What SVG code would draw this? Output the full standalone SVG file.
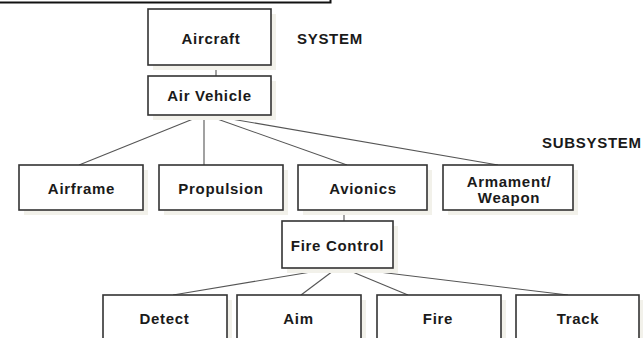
<svg xmlns="http://www.w3.org/2000/svg" width="643" height="338" viewBox="0 0 643 338">
  <style>
    .box { fill: #ffffff; stroke: #333333; stroke-width: 1.6; }
    .shadow { fill: #f2f1ea; }
    .lbl { font-family: "Liberation Sans", Arial, sans-serif; font-weight: bold; font-size: 15px; fill: #1a1a1a; text-anchor: middle; letter-spacing: 0.7px; }
    .tag { font-family: "Liberation Sans", Arial, sans-serif; font-weight: bold; font-size: 15px; fill: #1a1a1a; letter-spacing: 0.7px; }
    .wire { stroke: #555555; stroke-width: 1.1; fill: none; }
  </style>

  <rect width="643" height="338" fill="#ffffff"/>

  <!-- frame edge along the top -->
  <rect x="-4" y="-20" width="334.5" height="22.5" fill="none" stroke="#111111" stroke-width="2"/>

  <!-- level tags -->
  <text class="tag" x="297" y="43.5">SYSTEM</text>
  <text class="tag" x="542" y="148">SUBSYSTEM</text>

  <!-- connectors -->
  <g id="connectors">
    <line class="wire" x1="216" y1="65" x2="216" y2="76"/>
    <line class="wire" x1="203" y1="115" x2="79" y2="165"/>
    <line class="wire" x1="204" y1="115" x2="204" y2="165"/>
    <line class="wire" x1="206" y1="115" x2="347" y2="165"/>
    <line class="wire" x1="208" y1="115" x2="498" y2="165"/>
    <line class="wire" x1="344" y1="211" x2="344" y2="221"/>
    <line class="wire" x1="335" y1="268" x2="173" y2="295"/>
    <line class="wire" x1="337" y1="268" x2="301" y2="295"/>
    <line class="wire" x1="343" y1="268" x2="408" y2="295"/>
    <line class="wire" x1="346" y1="268" x2="568" y2="295"/>
  </g>

  <g id="aircraft">
    <rect class="shadow" x="153" y="14" width="123" height="56"/>
    <rect class="box" x="148" y="9" width="123" height="56"/>
    <text class="lbl" x="211" y="43.5">Aircraft</text>
  </g>

  <g id="air-vehicle">
    <rect class="shadow" x="153" y="81" width="123" height="39"/>
    <rect class="box" x="148" y="76" width="123" height="39"/>
    <text class="lbl" x="209.5" y="101">Air Vehicle</text>
  </g>

  <g id="airframe">
    <rect class="shadow" x="24" y="170" width="124" height="45"/>
    <rect class="box" x="19" y="165" width="124" height="45"/>
    <text class="lbl" x="81.5" y="194">Airframe</text>
  </g>

  <g id="propulsion">
    <rect class="shadow" x="164" y="170" width="124" height="45"/>
    <rect class="box" x="159" y="165" width="124" height="45"/>
    <text class="lbl" x="221" y="194">Propulsion</text>
  </g>

  <g id="avionics">
    <rect class="shadow" x="303" y="170" width="129" height="45"/>
    <rect class="box" x="298" y="165" width="129" height="45"/>
    <text class="lbl" x="363" y="194">Avionics</text>
  </g>

  <g id="armament">
    <rect class="shadow" x="448" y="170" width="130" height="45"/>
    <rect class="box" x="443" y="165" width="130" height="45"/>
    <text class="lbl" x="509" y="187">Armament/</text>
    <text class="lbl" x="509" y="202.5">Weapon</text>
  </g>

  <g id="fire-control">
    <rect class="shadow" x="287" y="226" width="111" height="47"/>
    <rect class="box" x="282" y="221" width="111" height="47"/>
    <text class="lbl" x="337.5" y="251">Fire Control</text>
  </g>

  <g id="detect">
    <rect class="shadow" x="108" y="300" width="124" height="50"/>
    <rect class="box" x="103" y="295" width="124" height="50"/>
    <text class="lbl" x="164.5" y="324">Detect</text>
  </g>

  <g id="aim">
    <rect class="shadow" x="242" y="300" width="124" height="50"/>
    <rect class="box" x="237" y="295" width="124" height="50"/>
    <text class="lbl" x="298.5" y="324">Aim</text>
  </g>

  <g id="fire">
    <rect class="shadow" x="382" y="300" width="124" height="50"/>
    <rect class="box" x="377" y="295" width="124" height="50"/>
    <text class="lbl" x="438" y="324">Fire</text>
  </g>

  <g id="track">
    <rect class="shadow" x="521" y="300" width="123" height="50"/>
    <rect class="box" x="516" y="295" width="123" height="50"/>
    <text class="lbl" x="578" y="324">Track</text>
  </g>
</svg>
